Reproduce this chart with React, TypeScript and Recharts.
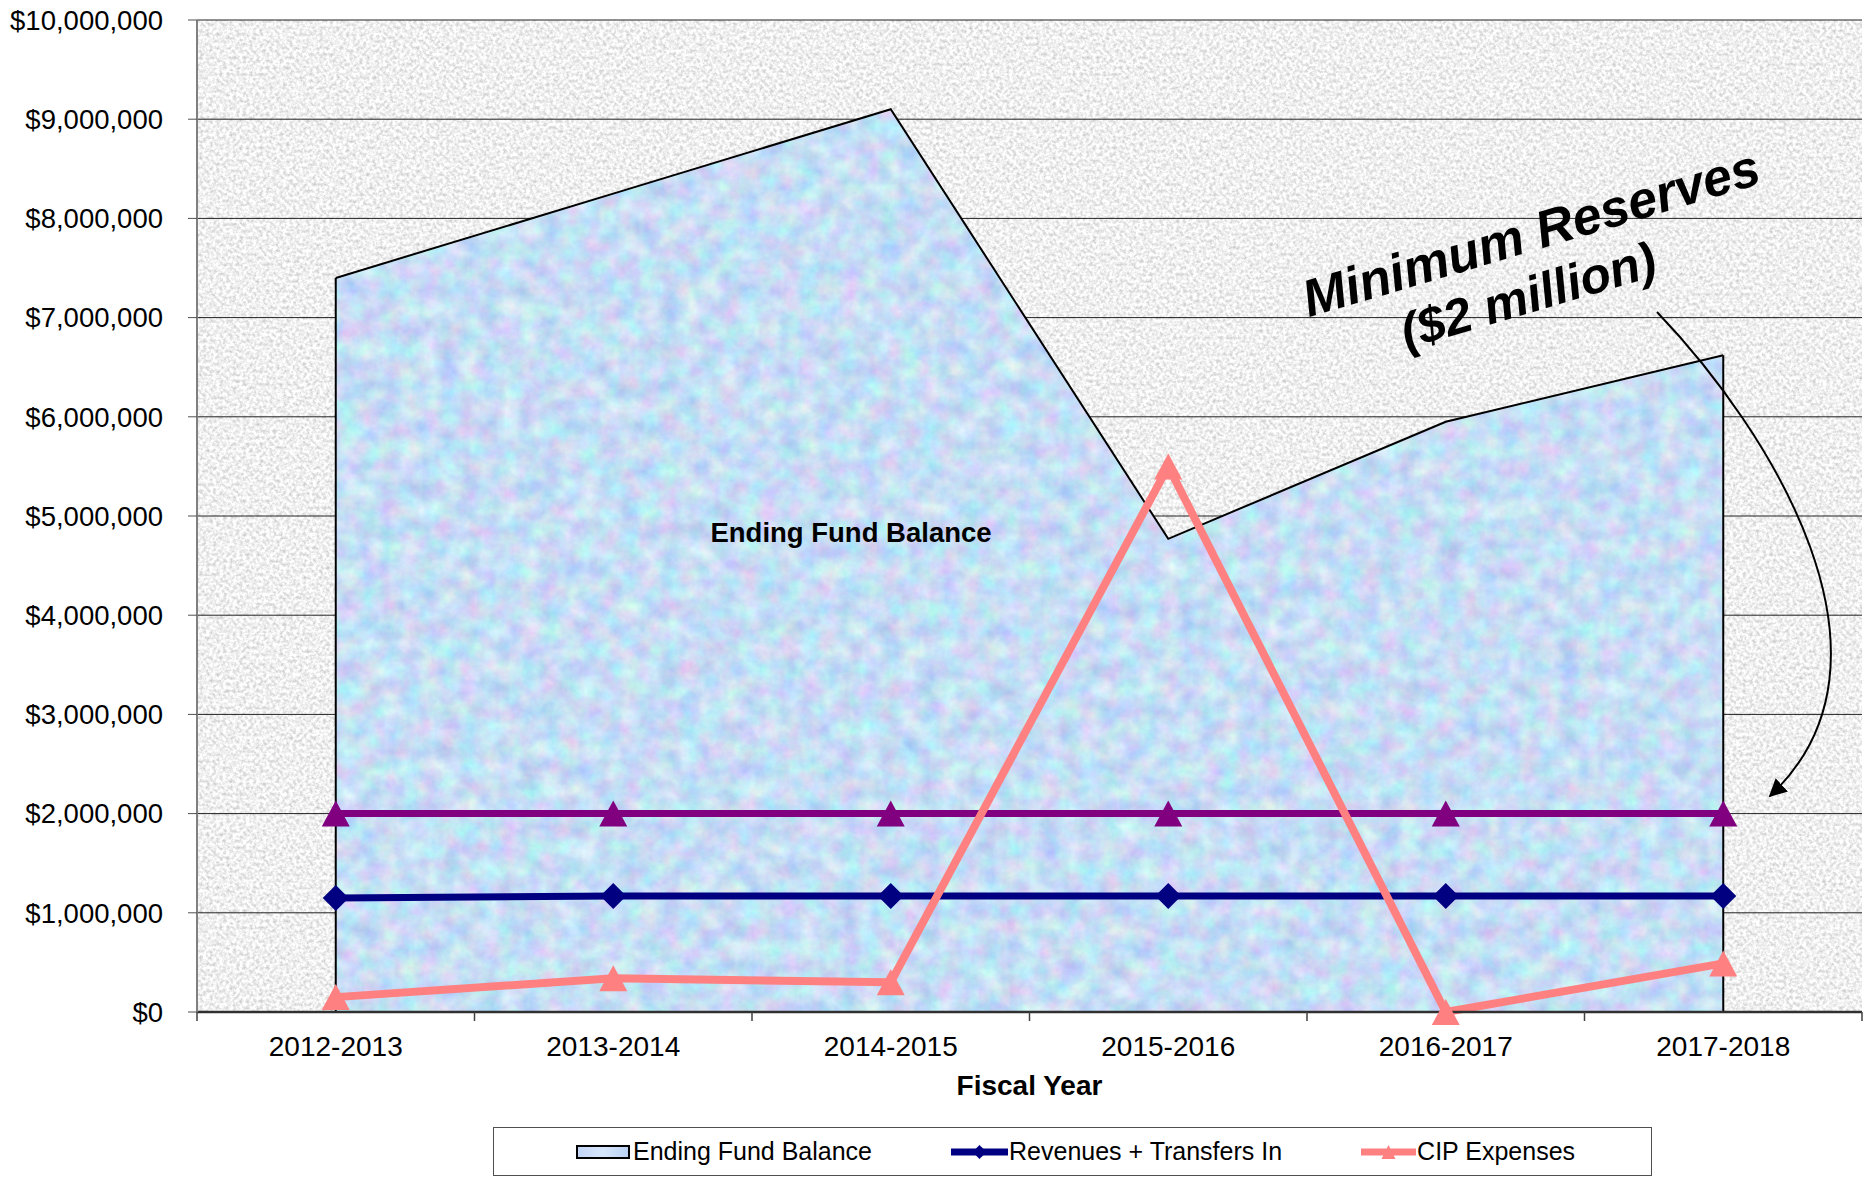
import React from "react"
import {
  ComposedChart,
  Area,
  Line,
  XAxis,
  YAxis,
  CartesianGrid,
  Legend,
  ReferenceLine,
} from "recharts"

const fiscalYears = ["2012-2013", "2013-2014", "2014-2015", "2015-2016", "2016-2017", "2017-2018"]
const endingFundBalance = [7400000, 8250000, 9100000, 4770000, 5950000, 6620000]
const revenuesTransfersIn = [1150000, 1170000, 1170000, 1170000, 1170000, 1170000]
const cipExpenses = [150000, 340000, 300000, 5500000, 0, 490000]
const minimumReserves = [2000000, 2000000, 2000000, 2000000, 2000000, 2000000]
const yTicks = [0, 1000000, 2000000, 3000000, 4000000, 5000000, 6000000, 7000000, 8000000, 9000000, 10000000]

const data = fiscalYears.map((year, i) => ({
  year,
  balance: endingFundBalance[i],
  revenues: revenuesTransfersIn[i],
  cip: cipExpenses[i],
  reserves: minimumReserves[i],
}))

const FONT = '"Liberation Sans", Arial, Helvetica, sans-serif'
const NAVY = "#000080"
const PINK = "#ff8080"
const PURPLE = "#800080"

const W = 1870
const H = 1177

const formatDollars = (v: number) => `$${v.toLocaleString("en-US")}`

function Diamond({ cx, cy, fill, size = 13 }: any) {
  if (cx == null || cy == null) return null
  return (
    <polygon
      points={`${cx},${cy - size} ${cx + size},${cy} ${cx},${cy + size} ${cx - size},${cy}`}
      fill={fill}
    />
  )
}

function Triangle({ cx, cy, fill, w = 14, h = 13 }: any) {
  if (cx == null || cy == null) return null
  return <polygon points={`${cx},${cy - h} ${cx + w},${cy + h} ${cx - w},${cy + h}`} fill={fill} />
}

// category label plus a tick mark on each band edge
function YearTick(props: any) {
  const { x, y, payload, index, visibleTicksCount } = props
  const half = payload?.offset ? payload.offset : 138.75
  return (
    <g>
      <line x1={x - half} x2={x - half} y1={y} y2={y + 9} stroke="#404040" strokeWidth={1.5} />
      {index === visibleTicksCount - 1 && (
        <line x1={x + half} x2={x + half} y1={y} y2={y + 9} stroke="#404040" strokeWidth={1.5} />
      )}
      <text x={x} y={y + 44} textAnchor="middle" fontSize={28} fontFamily={FONT} fill="#000">
        {payload.value}
      </text>
    </g>
  )
}

function LegendBox() {
  const item: React.CSSProperties = { display: "flex", alignItems: "center" }
  return (
    <div
      style={{
        boxSizing: "border-box",
        height: 49,
        width: 1159,
        border: "1.5px solid #505050",
        background: "#fff",
        display: "flex",
        alignItems: "center",
        justifyContent: "center",
        gap: 79,
        fontFamily: FONT,
        fontSize: 25,
        color: "#000",
        paddingLeft: 6,
      }}
    >
      <div style={item}>
        <div
          style={{
            boxSizing: "border-box",
            width: 54,
            height: 14,
            border: "2px solid #000",
            background: "linear-gradient(90deg, #c3d6f7, #d6e6fb, #bcd3f5)",
            marginRight: 3,
          }}
        />
        <span>Ending Fund Balance</span>
      </div>
      <div style={item}>
        <svg width={57} height={24} style={{ marginRight: 1 }}>
          <line x1={0} x2={57} y1={12} y2={12} stroke={NAVY} strokeWidth={7} strokeLinecap="round" />
          <Diamond cx={28.5} cy={12} fill={NAVY} size={7} />
        </svg>
        <span>Revenues + Transfers In</span>
      </div>
      <div style={item}>
        <svg width={55} height={24} style={{ marginRight: 1 }}>
          <line x1={0} x2={55} y1={12} y2={12} stroke={PINK} strokeWidth={7} strokeLinecap="round" />
          <Triangle cx={27.5} cy={12} fill={PINK} w={7} h={7} />
        </svg>
        <span>CIP Expenses</span>
      </div>
    </div>
  )
}

export default function App() {
  return (
    <div style={{ position: "relative", width: W, height: H, background: "#fff" }}>
      <style>{"body{margin:0}"}</style>
      <ComposedChart width={W} height={H} data={data} margin={{ top: 20, right: 8, bottom: 1, left: 0 }}>
        <defs>
          <filter id="graniteNoise" x="0" y="0" width="100%" height="100%" colorInterpolationFilters="sRGB">
            <feTurbulence type="fractalNoise" baseFrequency="0.3" numOctaves="3" seed="7" />
            <feColorMatrix
              type="matrix"
              values="0.4 0 0 0 0.74  0.4 0 0 0 0.74  0.4 0 0 0 0.74  0 0 0 0 1"
            />
          </filter>
          <filter id="pastelNoise" x="0" y="0" width="100%" height="100%" colorInterpolationFilters="sRGB">
            <feTurbulence type="fractalNoise" baseFrequency="0.05" numOctaves="4" seed="3" />
            <feColorMatrix
              type="matrix"
              values="0.35 0 0 0 0.6  0 0.3 0 0 0.72  0 0 0.12 0 0.9  0 0 0 0 1"
            />
          </filter>
          <pattern id="graniteFill" patternUnits="userSpaceOnUse" x="0" y="0" width={W} height={H}>
            <rect width={W} height={H} filter="url(#graniteNoise)" />
          </pattern>
          <pattern id="pastelFill" patternUnits="userSpaceOnUse" x="0" y="0" width={W} height={H}>
            <rect width={W} height={H} filter="url(#pastelNoise)" />
          </pattern>
        </defs>

        <CartesianGrid vertical={false} stroke="#222" strokeWidth={1} fill="url(#graniteFill)" fillOpacity={1} />
        <XAxis
          dataKey="year"
          scale="band"
          height={115}
          axisLine={{ stroke: "#303030", strokeWidth: 2.5 }}
          tickLine={false}
          tickSize={0}
          tickMargin={0}
          tick={<YearTick />}
          interval={0}
          label={{
            value: "Fiscal Year",
            position: "insideTop",
            offset: 63,
            fontSize: 28,
            fontWeight: "bold",
            fontFamily: FONT,
            fill: "#000",
          }}
        />
        <YAxis
          width={197}
          domain={[0, 10000000]}
          ticks={yTicks}
          interval={0}
          tickFormatter={formatDollars}
          tickSize={9}
          tickMargin={25}
          tickLine={{ stroke: "#505050" }}
          axisLine={{ stroke: "#808080", strokeWidth: 2 }}
          tick={{ fontSize: 27.5, fontFamily: FONT, fill: "#000" }}
        />
        <YAxis
          yAxisId="frame"
          orientation="right"
          width={0}
          tick={false}
          tickLine={false}
          axisLine={{ stroke: "#808080", strokeWidth: 2 }}
        />
        <Legend verticalAlign="bottom" content={<LegendBox />} wrapperStyle={{ left: 493, bottom: 1, width: 1159, height: 49 }} />

        <Area
          type="linear"
          dataKey="balance"
          name="Ending Fund Balance"
          stroke="#000"
          strokeWidth={2}
          fill="url(#pastelFill)"
          fillOpacity={1}
          isAnimationActive={false}
        />
        <ReferenceLine
          segment={[
            { x: fiscalYears[0], y: 0 },
            { x: fiscalYears[0], y: endingFundBalance[0] },
          ]}
          stroke="#000"
          strokeWidth={2}
        />
        <ReferenceLine
          segment={[
            { x: fiscalYears[fiscalYears.length - 1], y: 0 },
            { x: fiscalYears[fiscalYears.length - 1], y: endingFundBalance[endingFundBalance.length - 1] },
          ]}
          stroke="#000"
          strokeWidth={2}
        />
        <Line
          type="linear"
          dataKey="reserves"
          name="Minimum Reserves"
          stroke={PURPLE}
          strokeWidth={7}
          dot={(p: any) => <Triangle key={`r-${p.index}`} cx={p.cx} cy={p.cy} fill={PURPLE} />}
          activeDot={false}
          legendType="none"
          isAnimationActive={false}
        />
        <Line
          type="linear"
          dataKey="revenues"
          name="Revenues + Transfers In"
          stroke={NAVY}
          strokeWidth={7}
          dot={(p: any) => <Diamond key={`v-${p.index}`} cx={p.cx} cy={p.cy} fill={NAVY} />}
          activeDot={false}
          isAnimationActive={false}
        />
        <Line
          type="linear"
          dataKey="cip"
          name="CIP Expenses"
          stroke={PINK}
          strokeWidth={8}
          dot={(p: any) => <Triangle key={`c-${p.index}`} cx={p.cx} cy={p.cy} fill={PINK} />}
          activeDot={false}
          isAnimationActive={false}
        />
      </ComposedChart>

      {/* annotations over the plot */}
      <svg width={W} height={H} style={{ position: "absolute", left: 0, top: 0, pointerEvents: "none" }}>
        <defs>
          <marker id="arrowHead" viewBox="0 0 10 10" refX="9" refY="5" markerWidth="9" markerHeight="9" orient="auto">
            <path d="M0,0 L10,5 L0,10 z" fill="#000" />
          </marker>
        </defs>
        <text x={851} y={542} textAnchor="middle" fontFamily={FONT} fontWeight="bold" fontSize={27.5} fill="#000">
          Ending Fund Balance
        </text>
        <text
          x={1536}
          y={250}
          textAnchor="middle"
          fontFamily={FONT}
          fontWeight="bold"
          fontStyle="italic"
          fontSize={52}
          fill="#000"
          transform="rotate(-16.5 1536 250)"
        >
          Minimum Reserves
        </text>
        <text
          x={1533}
          y={312}
          textAnchor="middle"
          fontFamily={FONT}
          fontWeight="bold"
          fontStyle="italic"
          fontSize={50}
          fill="#000"
          transform="rotate(-16.5 1533 312)"
        >
          ($2 million)
        </text>
        <path
          d="M 1657 312 C 1770 430, 1915 660, 1770 796"
          fill="none"
          stroke="#000"
          strokeWidth={2}
          markerEnd="url(#arrowHead)"
        />
      </svg>
    </div>
  )
}
